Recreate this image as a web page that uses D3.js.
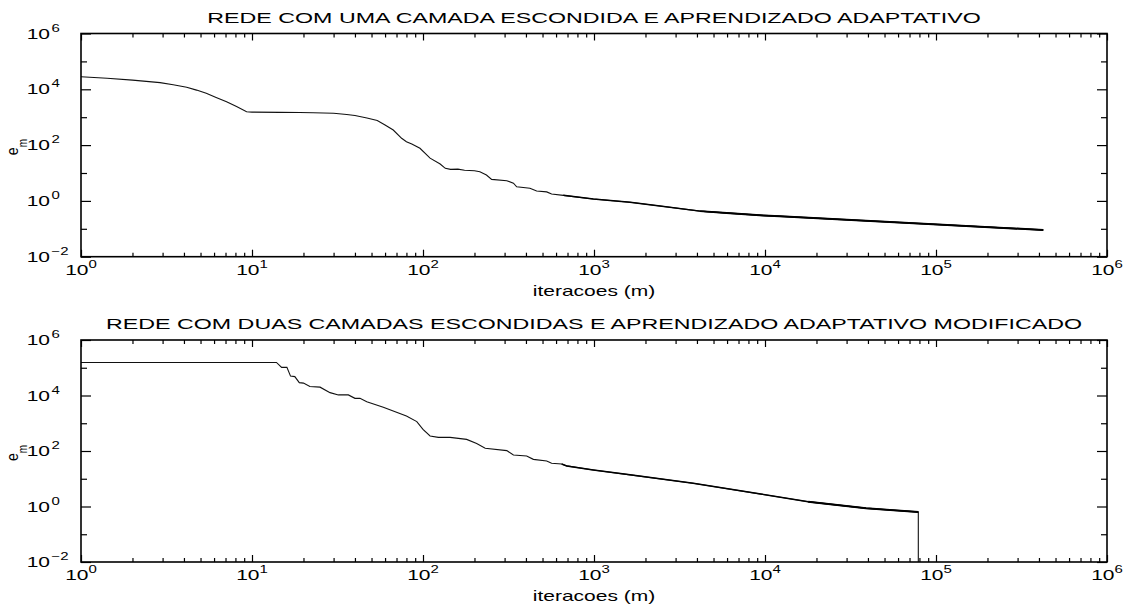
<!DOCTYPE html>
<html>
<head>
<meta charset="utf-8">
<script src="https://cdn.jsdelivr.net/npm/d3@7"></script>
<style>
  html, body { margin: 0; padding: 0; background: #fff; }
  svg { display: block; }
  text { font-family: "Liberation Sans", Arial, Helvetica, sans-serif; fill: #000; }
</style>
</head>
<body>
<svg id="chart" width="1128" height="608"></svg>
<script>
// Training error e_m versus iteration m (log-log), two networks.
const titles = [
  "REDE COM UMA CAMADA ESCONDIDA E APRENDIZADO ADAPTATIVO",
  "REDE COM DUAS CAMADAS ESCONDIDAS E APRENDIZADO ADAPTATIVO MODIFICADO"
];
const xLabel = "iteracoes (m)";
const yLabelBase = "e";
const yLabelSub = "m";

// x decades 10^0 .. 10^6, labelled y decades 10^-2 .. 10^6
const xTickExponents = [0, 1, 2, 3, 4, 5, 6];
const yTickExponents = [-2, 0, 2, 4, 6];

// one hidden layer, adaptive learning rate
const iterTop = [1, 1.42, 2, 2.9, 3.46, 4.15, 4.74, 5.4, 6.17, 7.1, 8.12, 9.3, 10, 14.6, 19, 22.8, 30, 35.8, 40, 47, 54, 60, 67,
  75, 80, 86, 96, 110, 126, 135, 145, 160, 175, 200, 215, 235, 252, 309, 338, 353, 422, 462, 529,
  565, 661, 991, 1625, 2430, 4170, 5970, 9800, 12200, 30000, 96000, 424000];
const errTop = [28300, 25000, 21400, 17300, 14500, 11800, 9360, 7200, 5130, 3600, 2400, 1575, 1520, 1490, 1470, 1450, 1380, 1250, 1150, 930, 760, 525, 347,
  175, 132, 110, 77, 34, 21, 14.7, 13.5, 13.8, 12.6, 12, 11.1, 8.5, 5.9, 5.3, 4.3, 3.2, 2.85, 2.26, 2.1,
  1.77, 1.58, 1.17, 0.89, 0.66, 0.43, 0.37, 0.30, 0.28, 0.21, 0.145, 0.091];

// two hidden layers, modified adaptive learning rate (error collapses to ~0 at the end)
const iterBottom = [1, 13.9, 14.9, 16, 16.8, 17.8, 18.9, 20, 21.8, 25, 28.6, 32, 36.6, 40, 42.8, 46.9, 58.6,
  80, 92, 100, 110, 123, 144, 180, 206, 231, 309, 338, 404, 442, 529, 565, 647, 693, 991, 1625, 3800,
  17900, 39000, 78800, 78800];
const errBottom = [155000, 155000, 103000, 103000, 50000, 48000, 29000, 28000, 21000, 20000, 12700, 10500, 10500, 7900, 7900, 6000, 3800,
  1830, 1150, 600, 347, 310, 310, 262, 187, 125, 103, 72, 66, 50, 43.6, 36, 34, 29, 20.7, 13.8, 6.9,
  1.49, 0.86, 0.63, 0.001];

const SX = 1.5;           // horizontal stretch of tick and axis lettering
const SX_TITLE = 1.66;    // titles are set a little wider
const svg = d3.select("#chart");
const left = 81, right = 1107;

const panels = [
  { top: 33.5, bottom: 256.7, title: titles[0], iter: iterTop, err: errTop },
  { top: 340, bottom: 562, title: titles[1], iter: iterBottom, err: errBottom }
];

const x = d3.scaleLog().domain([1, 1e6]).range([left, right]);
const xMajor = xTickExponents.map(e => Math.pow(10, e));
const xMinor = x.ticks().filter(v => Math.abs(Math.log10(v) - Math.round(Math.log10(v))) > 1e-9);

panels.forEach((p, i) => {
  const y = d3.scaleLog().domain([1e-2, 1e6]).range([p.bottom, p.top]);
  const yAll = d3.range(-2, 7).map(e => Math.pow(10, e));
  const yMajor = yTickExponents.map(e => Math.pow(10, e));
  const yMinor = yAll.filter(v => !yMajor.includes(v));
  const g = svg.append("g");

  const clipId = "clip" + i;
  g.append("clipPath").attr("id", clipId).append("rect")
    .attr("x", left).attr("y", p.top).attr("width", right - left).attr("height", p.bottom - p.top);

  // curve: thin for the early descent, heavier along the long oscillating tail
  const pts = p.iter.map((m, k) => [m, p.err[k]]);
  const line = d3.line().x(d => x(d[0])).y(d => y(Math.max(d[1], 1e-3)));
  const curve = g.append("g").attr("clip-path", `url(#${clipId})`);
  curve.append("path").datum(pts).attr("d", line)
    .attr("fill", "none").attr("stroke", "#111").attr("stroke-width", 1.1);
  curve.append("path").datum(pts.filter(d => d[0] >= 600 && d[1] > 0.01)).attr("d", line)
    .attr("fill", "none").attr("stroke", "#000").attr("stroke-width", 1.5);
  curve.append("path").datum(pts.filter(d => d[0] >= 4000 && d[1] > 0.01)).attr("d", line)
    .attr("fill", "none").attr("stroke", "#000").attr("stroke-width", 2);

  // inward ticks on all four sides
  const strip = sel => sel.call(s => s.select(".domain").remove());
  const tickStyle = sel => sel.selectAll("line").attr("stroke", "#000").attr("stroke-width", 1.2);
  [[d3.axisBottom, p.bottom], [d3.axisTop, p.top]].forEach(([ax, yy]) => {
    g.append("g").attr("transform", `translate(0,${yy})`)
      .call(ax(x).tickValues(xMajor).tickSize(-7).tickFormat("")).call(strip).call(tickStyle);
    g.append("g").attr("transform", `translate(0,${yy})`)
      .call(ax(x).tickValues(xMinor).tickSize(-4).tickFormat("")).call(strip).call(tickStyle);
  });
  [[d3.axisLeft, left], [d3.axisRight, right]].forEach(([ax, xx]) => {
    g.append("g").attr("transform", `translate(${xx},0)`)
      .call(ax(y).tickValues(yMajor).tickSize(-10).tickFormat("")).call(strip).call(tickStyle);
    g.append("g").attr("transform", `translate(${xx},0)`)
      .call(ax(y).tickValues(yMinor).tickSize(-6).tickFormat("")).call(strip).call(tickStyle);
  });

  // frame
  g.append("rect").attr("x", left).attr("y", p.top)
    .attr("width", right - left).attr("height", p.bottom - p.top)
    .attr("fill", "none").attr("stroke", "#000").attr("stroke-width", 1.6);

  // x tick labels
  xTickExponents.forEach(e => {
    const t = g.append("g")
      .attr("transform", `translate(${x(Math.pow(10, e))},${p.bottom + 18})scale(${SX},1)`)
      .append("text").attr("text-anchor", "middle").style("font-size", "14px");
    t.append("tspan").text("10");
    t.append("tspan").attr("dy", -7).style("font-size", "10px").text(String(e).replace("-", "\u2212"));
  });

  // y tick labels: "10" right-aligned, exponent hung after it
  yTickExponents.forEach(e => {
    const lg = g.append("g")
      .attr("transform", `translate(${left - 31},${y(Math.pow(10, e)) + 5})scale(${SX},1)`);
    lg.append("text").attr("text-anchor", "end").style("font-size", "14px").text("10");
    lg.append("text").attr("x", 1).attr("y", -7).style("font-size", "10px")
      .text(String(e).replace("-", "\u2212"));
  });

  // title
  g.append("g").attr("transform", `translate(${(left + right) / 2},${p.top - 11})scale(${SX_TITLE},1)`)
    .append("text").attr("text-anchor", "middle").style("font-size", "14px").text(p.title);

  // x label
  g.append("g").attr("transform", `translate(${(left + right) / 2},${p.bottom + 39})scale(${SX},1)`)
    .append("text").attr("text-anchor", "middle").style("font-size", "14px").text(xLabel);

  // y label e_m (rotated, subscript pushed outward from the baseline)
  const yl = g.append("g")
    .attr("transform", `translate(18,${(p.top + p.bottom) / 2 + 2})rotate(-90)scale(1,1.22)`)
    .append("text").attr("text-anchor", "middle").style("font-size", "14px");
  yl.append("tspan").text(yLabelBase);
  yl.append("tspan").attr("dy", 7).style("font-size", "10px").text(yLabelSub);
});
</script>
</body>
</html>
